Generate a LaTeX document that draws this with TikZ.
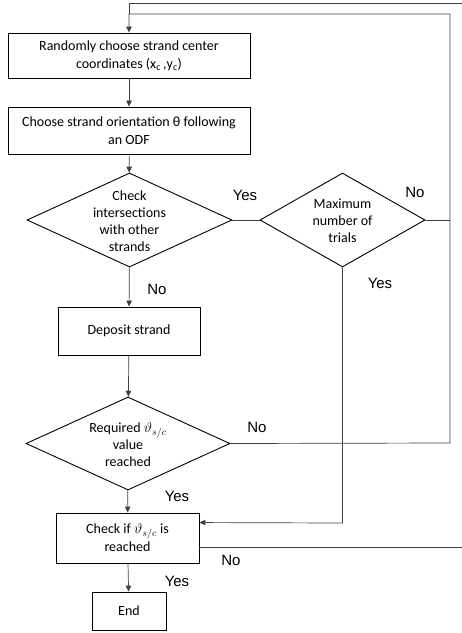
\documentclass[tikz,border=0pt]{standalone}
\usepackage{fontspec}
\setmainfont{Carlito}
\newfontfamily\lblfont{Liberation Sans}
\usetikzlibrary{shapes.geometric,arrows.meta}
\begin{document}
\begin{tikzpicture}[x=1pt,y=-1pt,
  boxnode/.style={draw=black,line width=0.9pt,rectangle,inner sep=0pt,align=center,
    font=\fontsize{14}{18}\selectfont},
  dianode/.style={draw=black,line width=0.9pt,diamond,inner sep=0pt},
  dtext/.style={align=center,inner sep=0pt,font=\fontsize{14}{17}\selectfont},
  conn/.style={draw=black!75,line width=0.7pt},
  arr/.style={conn,-{Triangle[length=6pt,width=5.5pt]}},
  lbl/.style={font=\lblfont\fontsize{15}{17}\selectfont,inner sep=0pt}]
\useasboundingbox (0,0) rectangle (462,633);
\clip (0,0) rectangle (462,633);
% boxes
\node[boxnode,minimum width=242pt,minimum height=45pt] (b1) at (129,55.5)
  {Randomly choose strand center\\coordinates (x\textsubscript{c}\,,y\textsubscript{c})};
\node[boxnode,minimum width=242pt,minimum height=47pt] (b2) at (129,130.5)
  {Choose strand orientation θ following\\an ODF};
\node[dianode,minimum width=205pt,minimum height=94pt] (d1) at (129.5,220) {};
\node[dtext] (d1t) at (129.5,221) {Check\\intersections\\with other\\strands};
\node[dianode,minimum width=165pt,minimum height=94pt] (d2) at (342.5,220) {};
\node[dtext] (d2t) at (342.5,221) {Maximum\\number of\\trials};
\node[boxnode,minimum width=142pt,minimum height=48pt] (b3) at (129,331) {Deposit strand};
\node[dianode,minimum width=204pt,minimum height=93pt] (d3) at (128,443.5) {};
\node[dtext] (d3t) at (128,445) {Required $\vartheta_{s/c}$\\value\\reached};
\node[boxnode,minimum width=143pt,minimum height=50pt] (b4) at (127.5,538)
  {Check if $\vartheta_{s/c}$ is\\reached};
\node[boxnode,minimum width=74pt,minimum height=38pt] (b5) at (129,611) {End};
% helper coordinates
\coordinate (r1) at (450,14);
\coordinate (r2) at (450,443);
\coordinate (rj) at (450,220);
\coordinate (t1) at (475,3);
\coordinate (t2) at (129,3);
\coordinate (m1) at (342.5,523);
% connectors
\draw[arr] (b1) -- (b2);
\draw[arr] (b2) -- (d1);
\draw[arr] (d1) -- (b3);
\draw[arr] (b3) -- (d3);
\draw[arr] (d3) -- (b4);
\draw[arr] (b4) -- (b5);
\draw[conn] (d1.east) -- (d2.west);
\draw[conn] (d2.east) -- (rj);
\draw[arr] (d3.east) -- (r2) -- (r1) -| (b1.north);
\draw[arr] (d2.south) -- (m1) -- ([yshift=-10pt]b4.north east);
\draw[conn] ([yshift=16pt]b4.south east) -| (t1) -- (t2) -- (r1 -| t2);
% labels
\node[lbl] (y1) at (245,195) {Yes};
\node[lbl] (n1) at (415,192) {No};
\node[lbl] (n2) at (157,289) {No};
\node[lbl] (y2) at (380,283) {Yes};
\node[lbl] (n3) at (257,427) {No};
\node[lbl] (y3) at (177,496) {Yes};
\node[lbl] (n4) at (231,560) {No};
\node[lbl] (y4) at (177,581) {Yes};
\end{tikzpicture}
\end{document}
